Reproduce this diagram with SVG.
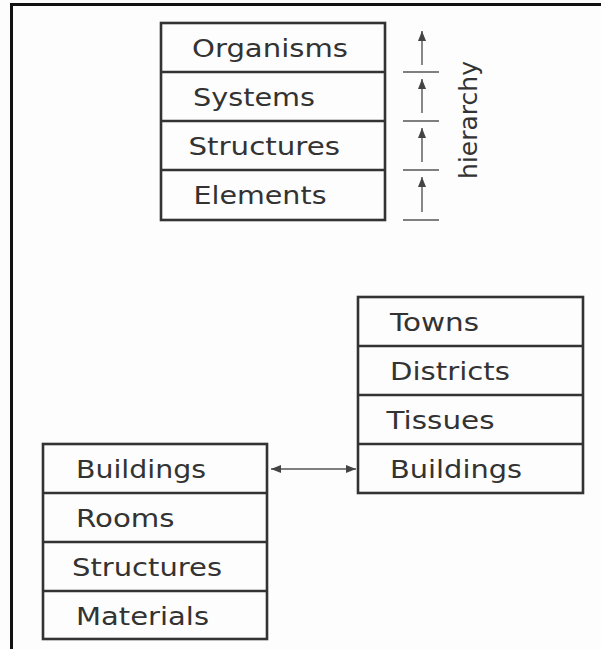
<svg xmlns="http://www.w3.org/2000/svg" width="601" height="649" viewBox="0 0 601 649">
<defs>
<style>
.box{fill:none;stroke:#333;stroke-width:2.6}
.div{stroke:#333;stroke-width:2.4}
.t{font-family:"DejaVu Sans","Verdana",sans-serif;font-size:25px;fill:#333}
.tick{stroke:#555;stroke-width:1.4}
.arr{stroke:#555;stroke-width:1.4;fill:none}
</style>
<marker id="ah" viewBox="0 0 10 8" refX="10" refY="4" markerWidth="10" markerHeight="8" markerUnits="userSpaceOnUse" orient="auto-start-reverse">
<path d="M0,0 L10,4 L0,8 Z" fill="#444"/>
</marker>
</defs>
<rect width="601" height="649" fill="#fdfdfd"/>
<g id="frame">
<line x1="10" y1="4.5" x2="601" y2="4.5" stroke="#111" stroke-width="3"/>
<line x1="11.5" y1="3" x2="11.5" y2="649" stroke="#111" stroke-width="3"/>
</g>
<g id="hierarchy-stack">
<rect class="box" x="161" y="23" width="224" height="197"/>
<line class="div" x1="161" y1="72" x2="385" y2="72"/>
<line class="div" x1="161" y1="121" x2="385" y2="121"/>
<line class="div" x1="161" y1="170" x2="385" y2="170"/>
<text class="t" x="192" y="56.5" textLength="156" lengthAdjust="spacingAndGlyphs">Organisms</text>
<text class="t" x="193" y="105.5" textLength="122" lengthAdjust="spacingAndGlyphs">Systems</text>
<text class="t" x="188.5" y="154.5" textLength="151.5" lengthAdjust="spacingAndGlyphs">Structures</text>
<text class="t" x="193.5" y="203.5" textLength="133" lengthAdjust="spacingAndGlyphs">Elements</text>
</g>
<g id="hierarchy-scale">
<line class="tick" x1="403" y1="72" x2="439" y2="72"/>
<line class="tick" x1="403" y1="121" x2="439" y2="121"/>
<line class="tick" x1="403" y1="170" x2="439" y2="170"/>
<line class="tick" x1="403" y1="220" x2="439" y2="220"/>
<line class="arr" x1="422" y1="65" x2="422" y2="31" marker-end="url(#ah)"/>
<line class="arr" x1="422" y1="113" x2="422" y2="79" marker-end="url(#ah)"/>
<line class="arr" x1="422" y1="162" x2="422" y2="128" marker-end="url(#ah)"/>
<line class="arr" x1="422" y1="212" x2="422" y2="177" marker-end="url(#ah)"/>
<text class="t" x="0" y="0" text-anchor="middle" transform="translate(476.5,120) rotate(-90)">hierarchy</text>
</g>
<g id="town-stack">
<rect class="box" x="358" y="297" width="225" height="196"/>
<line class="div" x1="358" y1="346" x2="583" y2="346"/>
<line class="div" x1="358" y1="395" x2="583" y2="395"/>
<line class="div" x1="358" y1="444" x2="583" y2="444"/>
<text class="t" x="390" y="331" textLength="89" lengthAdjust="spacingAndGlyphs">Towns</text>
<text class="t" x="390" y="380" textLength="120" lengthAdjust="spacingAndGlyphs">Districts</text>
<text class="t" x="386.5" y="429" textLength="108" lengthAdjust="spacingAndGlyphs">Tissues</text>
<text class="t" x="390" y="478" textLength="132" lengthAdjust="spacingAndGlyphs">Buildings</text>
</g>
<g id="building-stack">
<rect class="box" x="43" y="444" width="224" height="195"/>
<line class="div" x1="43" y1="493" x2="267" y2="493"/>
<line class="div" x1="43" y1="542" x2="267" y2="542"/>
<line class="div" x1="43" y1="591" x2="267" y2="591"/>
<text class="t" x="76" y="478" textLength="130" lengthAdjust="spacingAndGlyphs">Buildings</text>
<text class="t" x="76" y="527" textLength="98.5" lengthAdjust="spacingAndGlyphs">Rooms</text>
<text class="t" x="72" y="576" textLength="150" lengthAdjust="spacingAndGlyphs">Structures</text>
<text class="t" x="76" y="625" textLength="133" lengthAdjust="spacingAndGlyphs">Materials</text>
</g>
<g id="connectors">
<line class="arr" x1="271" y1="469" x2="356" y2="469" marker-start="url(#ah)" marker-end="url(#ah)"/>
</g>
</svg>
